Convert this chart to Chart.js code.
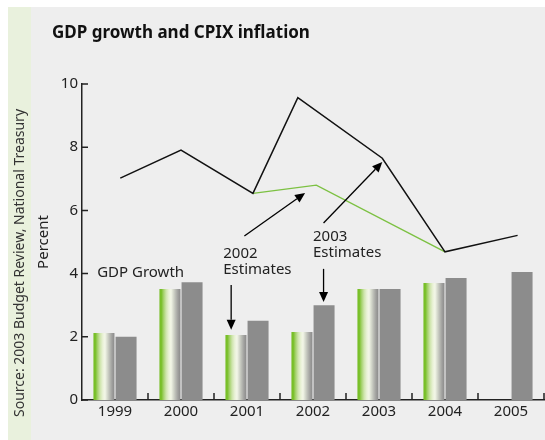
<!DOCTYPE html>
<html>
<head>
<meta charset="utf-8">
<script src="https://cdn.jsdelivr.net/npm/chart.js@4.4.1/dist/chart.umd.min.js"></script>
<style>
  html, body { margin: 0; padding: 0; background: #fff; }
  #wrap { position: relative; width: 545px; height: 440px; overflow: hidden; }
  #strip { position: absolute; left: 8px; top: 7px; width: 23px; height: 433px; background: #e9f1dd; }
  #panel { position: absolute; left: 31px; top: 7px; right: 0; bottom: 0; background: #eeeeee; }
  canvas { position: absolute; left: 0; top: 0; }
</style>
</head>
<body>
<div id="wrap">
  <div id="strip"></div>
  <div id="panel"></div>
  <canvas id="chart" width="545" height="440"></canvas>
</div>
<script>
// --- datos ---
const years = [1999, 2000, 2001, 2002, 2003, 2004, 2005];
const gdp2002Est = [2.12, 3.51, 2.06, 2.15, 3.51, 3.70, null];
const gdp2003Est = [2.0, 3.73, 2.51, 3.0, 3.51, 3.86, 4.05];

// CPIX: posiciones en años fraccionales
const cpixX2003 = [1999.08, 2000.0, 2001.09, 2001.77, 2003.05, 2004.0, 2005.1];
const cpix2003Est = [7.02, 7.91, 6.54, 9.57, 7.65, 4.69, 5.21];
const cpixX2002 = [2001.09, 2002.05, 2004.0];
const cpix2002Est = [6.54, 6.80, 4.69];

const yTicks = [0, 2, 4, 6, 8, 10];

// anotaciones en unidades de datos (año, porcentaje)
const notes = [
  { lines: ['GDP Growth'], x: 1998.73, y: 4.02 },
  { lines: ['2002', 'Estimates'], x: 2000.64, y: 4.62 },
  { lines: ['2003', 'Estimates'], x: 2002.0, y: 5.16 }
];
const arrows = [
  { from: [2000.76, 3.64], to: [2000.76, 2.22] },
  { from: [2002.16, 4.15], to: [2002.16, 3.10] },
  { from: [2000.96, 5.19], to: [2001.88, 6.55] },
  { from: [2002.16, 5.60], to: [2003.05, 7.53] }
];

const FONT = "'Noto Sans', sans-serif";
const TEXT = '#222';
const CAT_PCT = 0.67;
const BAR_PCT = 0.95;

// degradado verde -> blanco -> gris de las barras de 2002
function greenBar(c) {
  const chart = c.chart;
  const xs = chart.scales.x;
  if (!xs || !xs.width) return '#a4d06a';
  const catW = xs.getPixelForValue(2000) - xs.getPixelForValue(1999);
  const slot = catW * CAT_PCT / 2;
  const w = slot * BAR_PCT;
  const left = xs.getPixelForValue(years[c.dataIndex]) - catW * CAT_PCT / 2 + (slot - w) / 2;
  const g = chart.ctx.createLinearGradient(left, 0, left + w, 0);
  g.addColorStop(0, '#74bd22');
  g.addColorStop(0.1, '#7cc12e');
  g.addColorStop(0.2, '#a6d26e');
  g.addColorStop(0.32, '#cfe5ad');
  g.addColorStop(0.45, '#eaf2d8');
  g.addColorStop(0.55, '#f3f6e8');
  g.addColorStop(0.65, '#d8dccf');
  g.addColorStop(0.76, '#bcbeb7');
  g.addColorStop(0.88, '#a0a09e');
  g.addColorStop(1, '#8a8a8a');
  return g;
}

const extras = {
  id: 'extras',
  afterDraw(chart) {
    const { ctx } = chart;
    const xs = chart.scales.x, ys = chart.scales.y;
    const px = v => xs.getPixelForValue(v);
    const py = v => ys.getPixelForValue(v);

    ctx.save();
    // marcas hacia dentro
    ctx.strokeStyle = TEXT;
    ctx.lineWidth = 1.5;
    ctx.beginPath();
    yTicks.forEach(v => { ctx.moveTo(xs.left, py(v)); ctx.lineTo(xs.left + 6, py(v)); });
    years.forEach(y => {
      const x = px(y + 0.5);
      ctx.moveTo(x, ys.bottom); ctx.lineTo(x, ys.bottom - 7);
    });
    ctx.stroke();

    // flechas
    ctx.lineWidth = 1.3;
    ctx.fillStyle = '#000';
    ctx.strokeStyle = '#000';
    arrows.forEach(a => {
      const x0 = px(a.from[0]), y0 = py(a.from[1]);
      const x1 = px(a.to[0]), y1 = py(a.to[1]);
      const ang = Math.atan2(y1 - y0, x1 - x0);
      const L = 10, H = 4.5;
      const bx = x1 - L * Math.cos(ang), by = y1 - L * Math.sin(ang);
      ctx.beginPath();
      ctx.moveTo(x0, y0); ctx.lineTo(bx, by);
      ctx.stroke();
      ctx.beginPath();
      ctx.moveTo(x1, y1);
      ctx.lineTo(bx + H * Math.sin(ang), by - H * Math.cos(ang));
      ctx.lineTo(bx - H * Math.sin(ang), by + H * Math.cos(ang));
      ctx.closePath();
      ctx.fill();
    });

    // textos de anotación
    ctx.fillStyle = TEXT;
    ctx.font = '15px ' + FONT;
    ctx.textAlign = 'left';
    ctx.textBaseline = 'middle';
    notes.forEach(n => {
      n.lines.forEach((t, i) => ctx.fillText(t, px(n.x), py(n.y) + i * 16));
    });

    // título
    ctx.fillStyle = '#111';
    ctx.font = 'bold 17px ' + FONT;
    ctx.fillText('GDP growth and CPIX inflation', 52, 33);

    // fuente (vertical)
    ctx.fillStyle = '#333';
    ctx.font = '14px ' + FONT;
    ctx.translate(20, 263);
    ctx.rotate(-Math.PI / 2);
    ctx.textAlign = 'center';
    ctx.fillText('Source: 2003 Budget Review, National Treasury', 0, 0);
    ctx.restore();
  }
};

new Chart(document.getElementById('chart'), {
  data: {
    datasets: [
      {
        type: 'line',
        label: 'CPIX 2003 Estimates',
        data: cpixX2003.map((x, i) => ({ x, y: cpix2003Est[i] })),
        borderColor: '#111',
        borderWidth: 1.5,
        pointRadius: 0,
        tension: 0
      },
      {
        type: 'line',
        label: 'CPIX 2002 Estimates',
        data: cpixX2002.map((x, i) => ({ x, y: cpix2002Est[i] })),
        borderColor: '#7cc142',
        borderWidth: 1.4,
        pointRadius: 0,
        tension: 0
      },
      {
        type: 'bar',
        label: 'GDP 2002 Estimates',
        data: years.map((x, i) => ({ x, y: gdp2002Est[i] })),
        backgroundColor: greenBar,
        categoryPercentage: CAT_PCT,
        barPercentage: BAR_PCT
      },
      {
        type: 'bar',
        label: 'GDP 2003 Estimates',
        data: years.map((x, i) => ({ x, y: gdp2003Est[i] })),
        backgroundColor: '#8c8c8c',
        categoryPercentage: CAT_PCT,
        barPercentage: BAR_PCT
      }
    ]
  },
  options: {
    responsive: false,
    animation: false,
    layout: { padding: { left: 32, top: 84, right: 1, bottom: 0 } },
    plugins: { legend: { display: false }, tooltip: { enabled: false } },
    scales: {
      x: {
        type: 'linear',
        offset: false,
        min: 1998.5, max: 2005.5,
        afterBuildTicks: s => { s.ticks = years.map(v => ({ value: v })); },
        grid: { display: false, drawTicks: false },
        border: { display: true, color: TEXT, width: 1.5 },
        ticks: { color: TEXT, font: { family: FONT, size: 15 }, padding: 3, maxRotation: 0, callback: v => String(v) },
        afterFit: s => { s.height = 40; }
      },
      y: {
        min: 0, max: 10,
        afterBuildTicks: s => { s.ticks = yTicks.map(v => ({ value: v })); },
        grid: { display: false, drawTicks: false },
        border: { display: true, color: TEXT, width: 1.5 },
        ticks: { color: TEXT, font: { family: FONT, size: 15 }, padding: 4 },
        title: { display: true, text: 'Percent', color: TEXT, font: { family: FONT, size: 15 }, padding: { top: 3, bottom: 0 } },
        afterFit: s => { s.width = 50; }
      }
    }
  },
  plugins: [extras]
});
</script>
</body>
</html>
